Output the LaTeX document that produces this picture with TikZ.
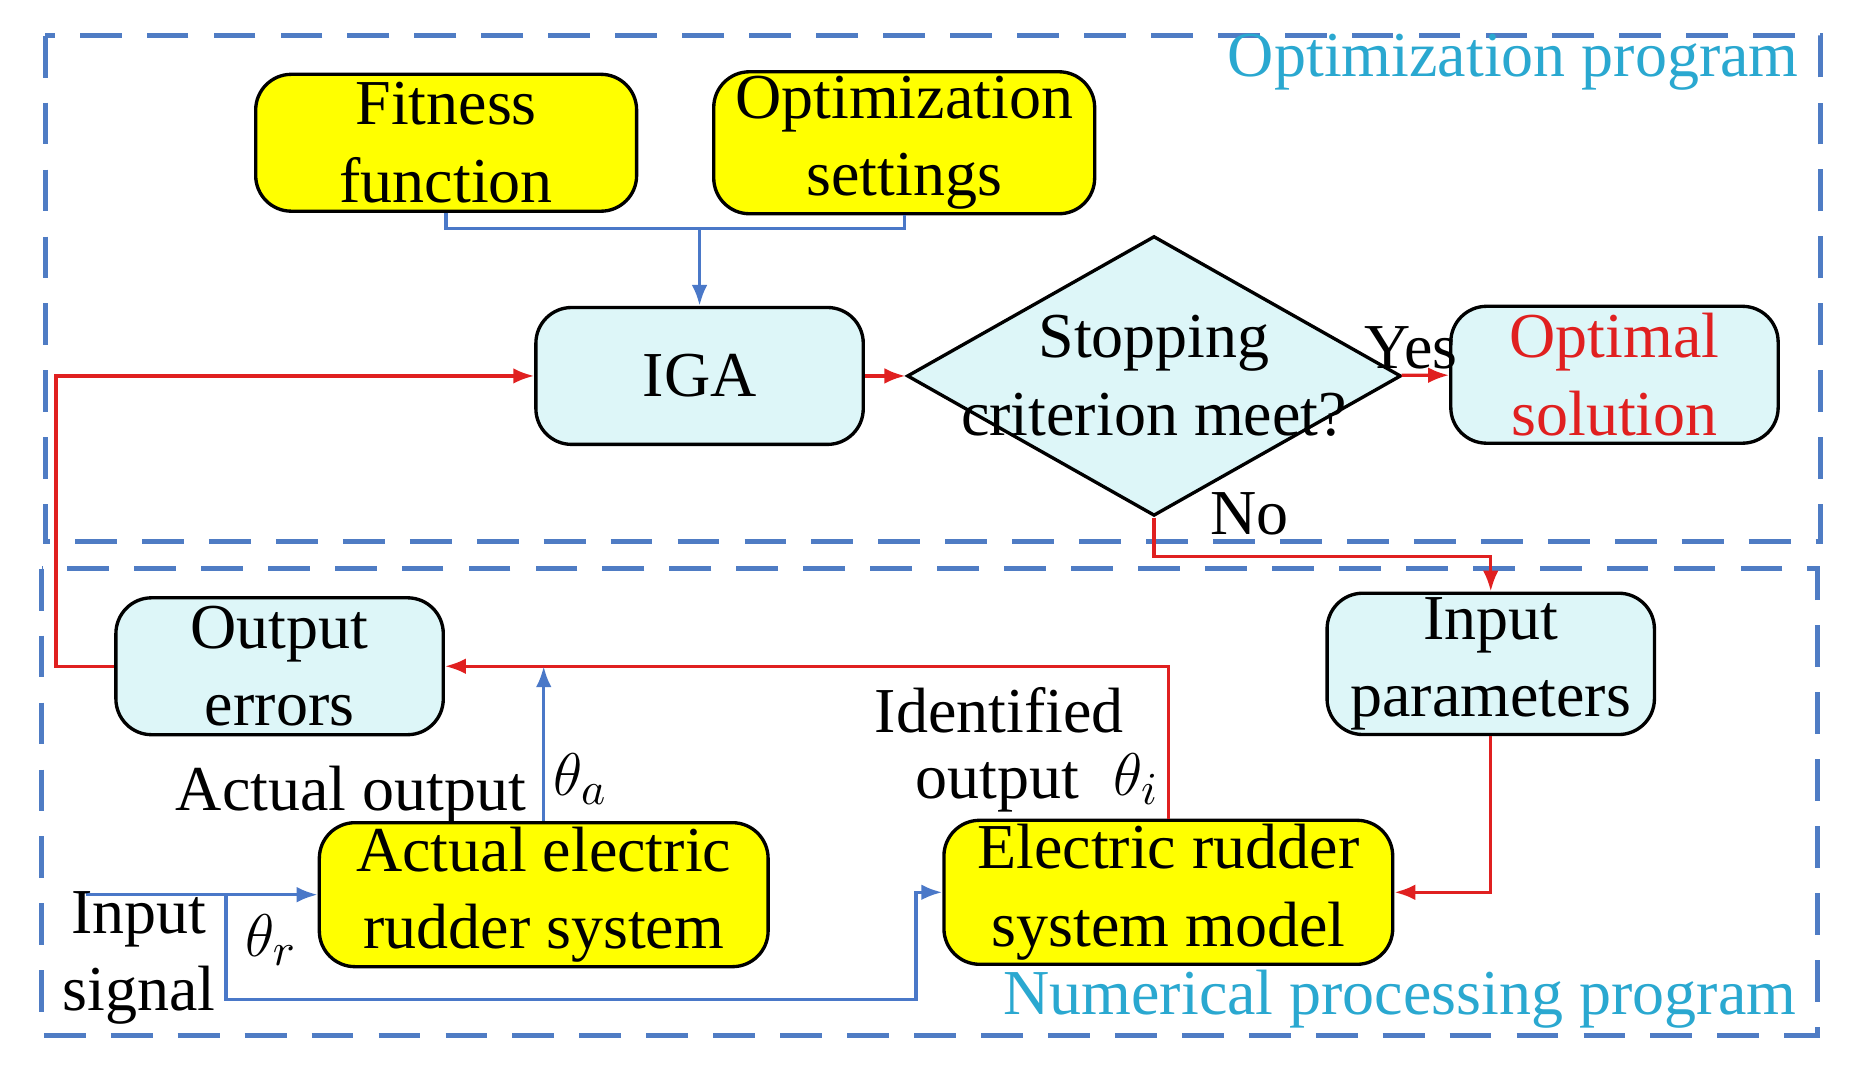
\documentclass[tikz,border=0pt]{standalone}
\usepackage{fontspec}
\setmainfont{Liberation Serif}
\usetikzlibrary{shapes.geometric}
\usetikzlibrary{arrows.meta}
\definecolor{boxyellow}{HTML}{FFFF00}
\definecolor{boxcyan}{HTML}{DDF6F8}
\definecolor{dashblue}{HTML}{4F7CC4}
\definecolor{flowblue}{HTML}{4A78C8}
\definecolor{flowred}{HTML}{E02020}
\definecolor{labelcyan}{HTML}{2AA8D0}
\tikzset{my_box/.style={draw, thick, rounded corners=0.3cm, minimum width=2.75cm, minimum height=1.15cm, align=center, inner sep=1pt, font=\fontsize{15.3}{18.5}\selectfont}}
\tikzset{my_yellow/.style={my_box, fill=boxyellow, minimum width=3.2cm}}
\tikzset{my_cyan/.style={my_box, fill=boxcyan}}
\tikzset{my_frame/.style={dashblue, very thick, dash pattern=on 10pt off 6pt}}
\tikzset{my_red/.style={flowred, thick, -{Latex[length=5pt]}}}
\tikzset{my_blue/.style={flowblue, thick, -{Latex[length=5pt]}}}
\tikzset{my_text/.style={font=\fontsize{15.3}{18.5}\selectfont, inner sep=1pt}}
\begin{document}
\begin{tikzpicture}[x=0.01cm, y=-0.01cm]
    \useasboundingbox (0,0) rectangle (1560,907);
    % program frames
    \draw[my_frame] (38,30) rectangle (1530,455);
    \draw[my_frame] (35,478) rectangle (1528,870);
    \node[my_text, labelcyan, anchor=east] (optlabel) at (1516,52) {Optimization program};
    \node[my_text, labelcyan, anchor=east] (numlabel) at (1514,840) {Numerical processing program};

    \node[my_yellow] (fit) at (375,120) {Fitness\\function};
    \node[my_yellow] (set) at (760,120) {Optimization\\settings};
    \node[my_cyan] (iga) at (588,316) {IGA};
    \node[diamond, draw, thick, fill=boxcyan, minimum width=4.15cm, minimum height=2.35cm, inner sep=0pt] (stop) at (970,316) {};
    \node[my_text, align=center] (stoptext) at (970,316) {Stopping\\criterion meet?};
    \node[my_cyan, text=flowred] (sol) at (1357,315) {Optimal\\solution};
    \node[my_cyan] (par) at (1253,558) {Input\\parameters};
    \node[my_cyan] (err) at (235,560) {Output\\errors};
    \node[my_yellow, minimum width=3.77cm] (act) at (457,752) {Actual electric\\rudder system};
    \node[my_yellow, minimum width=3.77cm] (mod) at (982,750) {Electric rudder\\system model};

    \coordinate (join) at (588,192);
    \coordinate (split) at (190,752);
    \coordinate (in) at (72,752);
    \coordinate (acttop) at (457,560);

    % optimization flow
    \draw[flowblue, thick] (fit.south) |- (join) -| (set.south);
    \draw[my_blue] (join) -- (iga.north);
    \draw[my_red] (iga) -- (stop);
    \draw[my_red] (stop) -- node[my_text, above, black, pos=0.2] {Yes} (sol);
    \draw[my_red] (stop.south) -- ++(0,33) -| (par.north);
    \node[my_text] (no) at (1050,432) {No};

    % numerical processing flow
    \draw[my_red] (par.south) |- (mod.east);
    \draw[my_red] (mod.north) |- (err.east);
    \draw[my_red] (err.west) -- ++(-49,0) |- (iga.west);
    \draw[my_blue] (act.north) -- (acttop);
    \draw[my_blue] (in) -- (act.west);
    \draw[my_blue] (split) -- ++(0,88) -| ++(580,-90) -- (mod.west);

    \node[my_text] (actout) at (295,668) {Actual output};
    \node[my_text] (tha) at (488,655) {$\theta_a$};
    \node[my_text] (ident) at (840,597) {Identified};
    \node[my_text] (idout) at (838,662) {output};
    \node[my_text] (thi) at (955,655) {$\theta_i$};
    \node[my_text, align=center] (insig) at (117,805) {Input\\signal};
    \node[my_text] (thr) at (228,790) {$\theta_r$};
\end{tikzpicture}
\end{document}
